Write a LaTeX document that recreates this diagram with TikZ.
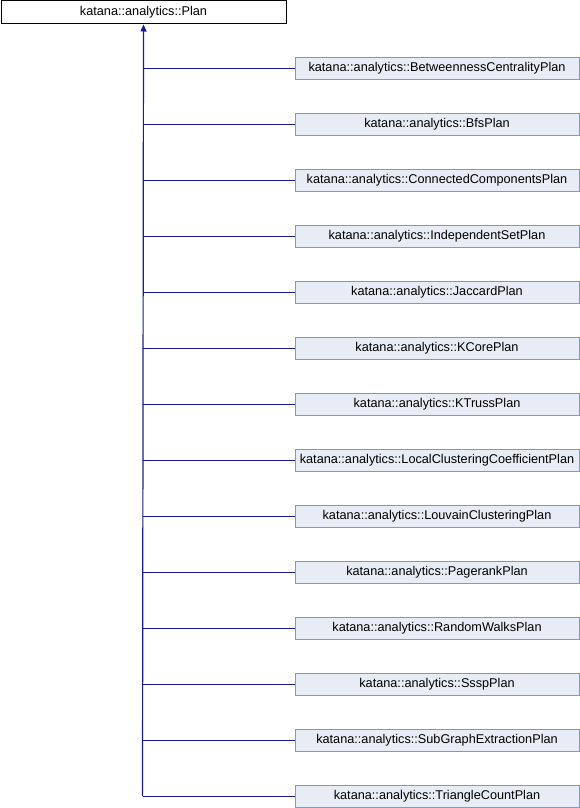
\documentclass[tikz,border=0pt]{standalone}
\usepackage{fontspec}
\setmainfont{Liberation Sans}
\usetikzlibrary{arrows.meta}
\definecolor{edgeblue}{HTML}{1A1A9C}
\definecolor{boxfill}{HTML}{E8ECF5}
\definecolor{boxline}{HTML}{8496C8}
\tikzset{
  basebox/.style={draw=black, fill=white, line width=1pt, minimum width=285pt, minimum height=23pt, inner sep=0pt, font=\fontsize{12.7}{14}\selectfont, anchor=north west},
  childbox/.style={draw=boxline, fill=boxfill, line width=1pt, minimum width=284pt, minimum height=22pt, inner sep=0pt, font=\fontsize{12.7}{14}\selectfont},
  inh/.style={draw=edgeblue, line width=1.2pt},
}
\begin{document}
\begin{tikzpicture}[x=1pt,y=-1pt]
\useasboundingbox (0,0) rectangle (580,808);
\node[basebox] (plan) at (0.5,0.5) {katana::analytics::Plan};
\coordinate (stem) at (142.5,796);
\foreach \i/\name in {0/BetweennessCentralityPlan,1/BfsPlan,2/ConnectedComponentsPlan,3/IndependentSetPlan,4/JaccardPlan,5/KCorePlan,6/KTrussPlan,7/LocalClusteringCoefficientPlan,8/LouvainClusteringPlan,9/PagerankPlan,10/RandomWalksPlan,11/SsspPlan,12/SubGraphExtractionPlan,13/TriangleCountPlan}{
  \node[childbox] (c\i) at (437, 68.5+56*\i) {katana::analytics::\name};
  \coordinate (j\i) at (142.5, 68.5+56*\i);
  \draw[inh] (j\i) -- (c\i.west);
}
\draw[inh, -{Triangle[length=7pt,width=6pt]}] (stem) -- (plan.south);
\end{tikzpicture}
\end{document}
